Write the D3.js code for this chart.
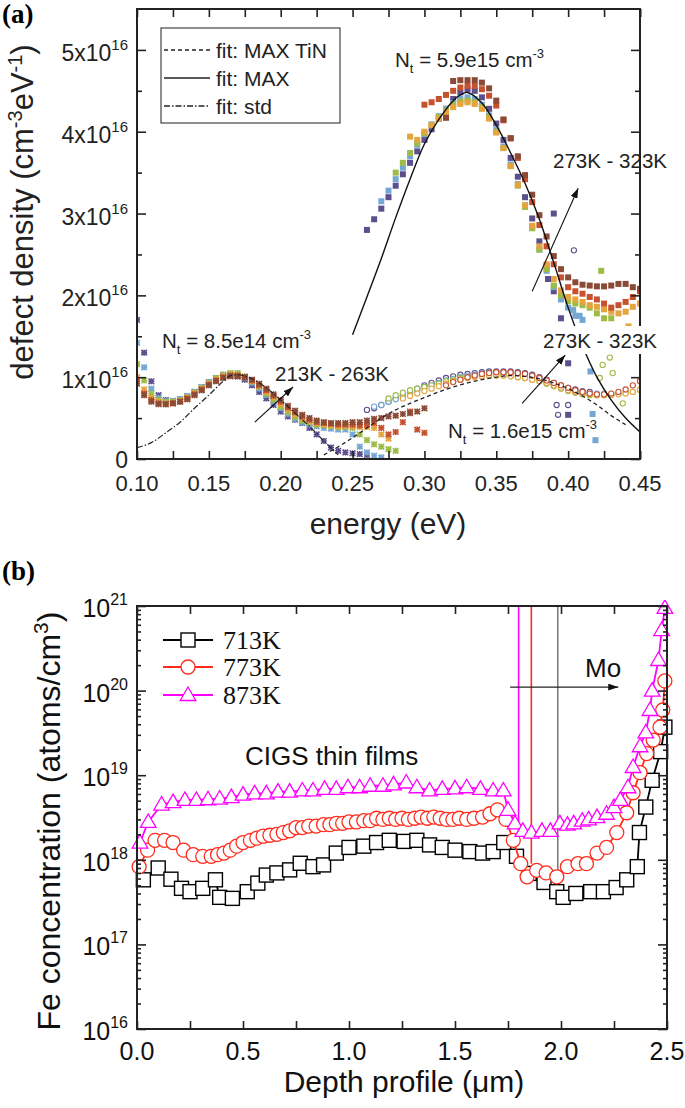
<!DOCTYPE html>
<html><head><meta charset="utf-8">
<script src="https://cdn.jsdelivr.net/npm/d3@7"></script>
<style>body{margin:0;background:#fff} svg{display:block}</style>
</head><body><svg id="c" width="685" height="1108"></svg>
<script>
// ================= PANEL (a) DATA (values in units of 1e16 cm^-3 eV^-1) =================
const aXTickLabels = ["0.10","0.15","0.20","0.25","0.30","0.35","0.40","0.45"];
const aXTicks = [0.10,0.15,0.20,0.25,0.30,0.35,0.40,0.45];
const aYTicks = [0,1,2,3,4,5];
const aYTickLabels = ["0","1x10","2x10","3x10","4x10","5x10"];
const aYExp = "16";

const lowTLabels = ["213K","223K","233K","243K","253K","263K"];
const lowE = [0.100,0.105,0.110,0.115,0.120,0.125,0.130,0.135,0.140,0.145,0.150,0.155,0.160,0.165,0.170,0.175,0.180,0.185,0.190,0.195,0.200,0.205,0.210,0.215,0.220,0.225,0.230,0.235,0.240,0.245,0.250,0.255,0.260,0.265,0.270,0.275,0.280,0.285,0.290,0.295,0.300];
const low213 = [1.70,1.30,0.95,0.78,0.72,0.71,0.73,0.77,0.82,0.88, 0.94,0.99,1.02,1.03,1.01,0.97,0.90,0.82,0.74,0.66, 0.58,0.52,0.48,0.44,0.38,0.30,0.22,0.14,0.10,0.08, 0.07,0.06,0.05,null,null,null,null,null,null,null,null];
const low223 = [1.42,1.12,0.86,0.75,0.71,0.71,0.73,0.77,0.82,0.88, 0.94,0.99,1.03,1.04,1.03,0.99,0.93,0.86,0.78,0.70, 0.62,0.55,0.49,0.45,0.42,0.40,0.38,0.37,0.36,0.36, 0.30,0.15,0.08,0.04,0.02,null,null,null,null,null,null];
const low233 = [1.16,0.96,0.80,0.72,0.70,0.70,0.72,0.76,0.81,0.87, 0.93,0.99,1.03,1.05,1.05,1.01,0.95,0.88,0.80,0.72, 0.64,0.57,0.51,0.47,0.44,0.42,0.41,0.40,0.39,0.39, 0.38,0.30,0.23,0.18,0.15,0.12,0.10,null,null,null,null];
const low243 = [1.00,0.85,0.75,0.70,0.68,0.69,0.71,0.75,0.80,0.86, 0.92,0.97,1.01,1.03,1.03,1.00,0.95,0.89,0.82,0.75, 0.67,0.60,0.54,0.50,0.46,0.44,0.42,0.41,0.40,0.40, 0.40,0.39,0.39,0.38,0.30,0.25,null,null,null,null,null];
const low253 = [0.95,0.80,0.72,0.68,0.67,0.68,0.70,0.74,0.79,0.85, 0.91,0.96,1.00,1.02,1.02,1.00,0.96,0.90,0.84,0.77, 0.70,0.63,0.57,0.52,0.48,0.45,0.44,0.43,0.42,0.42, 0.42,0.41,0.42,0.44,0.38,0.30,0.33,0.45,0.58,0.36,0.32];
const low263 = [0.92,0.78,0.70,0.67,0.67,0.68,0.70,0.73,0.78,0.84, 0.90,0.95,0.99,1.01,1.01,1.00,0.97,0.92,0.86,0.79, 0.72,0.65,0.59,0.54,0.50,0.47,0.45,0.44,0.44,0.44, 0.45,0.45,0.47,0.49,0.50,0.52,0.53,0.55,0.56,0.58,0.62];

const highE = [0.260,0.265,0.270,0.275,0.280,0.285,0.290,0.295,0.300,0.305,0.310,0.315,0.320,0.325,0.330,0.335,0.340,0.345,0.350,0.355,0.360,0.365,0.370,0.375,0.380,0.385,0.390,0.395,0.400,0.405,0.410,0.415,0.420,0.425,0.430,0.435,0.440,0.445,0.450];
// filled squares (deep level, 273K-323K)
const sq273 = [2.80,2.93,3.06,3.20,3.34,3.48,3.62,3.76,3.90,4.03, 4.16,4.28,4.40,4.48,4.52,4.50,4.42,4.28,4.10,3.90, 3.68,3.45,3.20,2.94,2.66,2.36,2.05,1.72,1.40,null, null,null,null,null,null,null,null,null,null];
const sq283 = [null,null,3.15,3.28,3.42,3.56,3.70,3.84,3.97,4.09, 4.19,4.28,4.35,4.40,4.42,4.40,4.33,4.20,4.02,3.82, 3.60,3.36,3.10,2.84,2.56,2.30,2.10,1.95,1.85,1.75, 1.70,null,null,null,null,null,null,null,null];
const sq293 = [null,null,null,null,3.50,3.62,3.74,3.86,3.98,4.08, 4.18,4.26,4.33,4.37,4.38,4.36,4.30,4.18,4.00,3.80, 3.58,3.34,3.08,2.82,2.56,2.32,2.12,2.00,1.93,1.90, 1.88,1.85,1.78,1.72,null,null,null,null,null];
const sq303 = [null,null,null,null,null,null,3.94,3.90,4.00,4.08, 4.16,4.24,4.30,4.34,4.36,4.34,4.28,4.16,3.99,3.80, 3.58,3.35,3.10,2.85,2.60,2.38,2.20,2.06,1.98,1.95, 1.92,1.88,1.86,1.83,1.80,1.78,1.80,1.86,1.90];
const sq313 = [null,null,null,null,null,null,null,null,4.33,4.36, 4.40,4.45,4.50,4.54,4.56,4.56,4.52,4.44,4.32,4.14, 3.92,3.68,3.42,3.14,2.86,2.60,2.38,2.22,2.10,2.05, 2.02,1.98,1.95,1.90,1.85,1.88,1.92,1.98,2.05];
const sq323 = [null,null,null,null,null,null,null,null,null,null, null,4.17,4.62,4.63,4.63,4.63,4.60,4.53,4.38,4.15, 3.92,3.70,3.47,3.23,2.98,2.72,2.48,2.32,2.22,2.16, 2.13,2.12,2.11,2.11,2.12,2.14,2.14,2.10,2.08];
// open circles (shallow level, 273K-323K)
const ci273 = [0.60,0.62,0.66,0.70,0.74,0.78,0.82,0.86,0.90,0.93, 0.96,0.99,1.01,1.03,1.04,1.05,1.06,1.07,1.07,1.07, 1.07,1.06,1.05,1.03,1.00,0.97,0.93,0.90,0.87,0.85, 0.83,0.82,null,null,null,null,null,null,null];
const ci283 = [null,0.64,0.66,0.70,0.73,0.77,0.80,0.84,0.87,0.90, 0.93,0.96,0.98,1.00,1.02,1.03,1.04,1.05,1.05,1.05, 1.05,1.04,1.03,1.01,0.98,0.95,0.92,0.88,0.85,0.83, 0.81,0.80,0.80,0.80,null,null,null,null,null];
const ci293 = [null,null,null,0.74,0.78,0.81,0.84,0.86,0.88,0.90, 0.92,0.95,0.97,0.99,1.00,1.01,1.02,1.02,1.02,1.02, 1.01,1.00,0.99,0.97,0.95,0.92,0.89,0.86,0.83,0.81, 0.79,0.78,0.78,0.78,0.79,0.80,0.81,0.82,0.84];
const ci303 = [null,null,null,null,null,0.74,0.77,0.80,0.83,0.86, 0.89,0.92,0.95,0.97,0.99,1.00,1.01,1.02,1.02,1.02, 1.01,1.00,0.99,0.97,0.95,0.93,0.90,0.87,0.84,0.82, 0.80,0.79,0.78,0.78,0.78,0.79,0.80,0.82,0.85];
const ci323 = [null,null,null,null,null,null,null,null,null,null, null,0.90,0.94,0.97,1.00,1.02,1.04,1.05,1.06,1.06, 1.06,1.05,1.04,1.02,0.99,0.96,0.93,0.90,0.87,0.84, 0.82,0.80,0.79,0.79,0.80,0.82,0.85,0.90,0.95];
// scattered points
const outE = [0.386,0.390,0.400,0.400,0.4035,0.408,0.4155,0.417,0.419,0.423,0.425,0.430,0.437,0.442, 0.404,0.392,0.400,0.393,0.424,0.429,0.431,0.422,0.438,0.427];
const outV = [2.20,3.00,1.17,0.54,1.82,1.75,1.07,0.55,0.23,2.30,1.55,1.72,1.45,1.62, 2.55,0.66,0.66,0.54,1.15,1.24,1.05,0.99,0.68,1.35];
const outColor = [0,0,0,0,1,1,1,1,1,2,2,2,3,3, 0,0,0,0,2,2,2,2,2,3];
const outShape = ["s","s","s","s","s","s","s","s","s","s","s","s","s","s","c","c","c","c","c","c","c","c","c","c"];

// fit curves
const fitStdE = [0.100,0.110,0.120,0.130,0.140,0.150,0.160,0.165,0.170,0.180,0.190,0.200,0.210,0.220,0.230,0.240];
const fitStdV = [0.14,0.20,0.32,0.45,0.62,0.78,0.95,1.02,1.03,0.98,0.87,0.72,0.56,0.40,0.22,0.05];
const fitMaxE = [0.250,0.260,0.270,0.280,0.290,0.300,0.310,0.320,0.325,0.330,0.340,0.350,0.360,0.370,0.380,0.390,0.400,0.410,0.420,0.430,0.440,0.450];
const fitMaxV = [1.52,1.98,2.45,2.95,3.42,3.85,4.15,4.38,4.45,4.48,4.35,4.08,3.74,3.37,2.93,2.40,1.85,1.38,1.00,0.72,0.50,0.33];
const fitTiNE = [0.230,0.240,0.250,0.260,0.270,0.280,0.290,0.300,0.310,0.320,0.330,0.340,0.350,0.360,0.370,0.380,0.390,0.400,0.410,0.420,0.430,0.440];
const fitTiNV = [0.05,0.15,0.26,0.38,0.50,0.60,0.68,0.75,0.82,0.88,0.93,0.97,1.00,1.02,1.01,0.98,0.93,0.86,0.77,0.66,0.53,0.42];

// ================= PANEL (b) DATA =================
const bXTicks = [0,0.5,1.0,1.5,2.0,2.5];
const bXTickLabels = ["0.0","0.5","1.0","1.5","2.0","2.5"];
const bYTicks = [1e16,1e17,1e18,1e19,1e20,1e21];
const bYExps = ["16","17","18","19","20","21"];
const seriesB = ["713K","773K","873K"];
const d713 = [0.03,0.10,0.16,0.21,0.25,0.31,0.37,0.39,0.45,0.52,0.57,0.61,0.66,0.72,0.77,0.83,0.88,0.94,1.00,1.07,1.13,1.19,1.26,1.32,1.38,1.44,1.50,1.57,1.63,1.68,1.73,1.79,1.85,1.92,1.98,2.01,2.07,2.14,2.20,2.26,2.31,2.36,2.37,2.40,2.43,2.47,2.49];
const v713 = [5.8e17,8.0e17,5.9e17,4.6e17,4.2e17,4.6e17,5.8e17,3.6e17,3.5e17,4.2e17,5.3e17,6.6e17,7.0e17,7.6e17,9.1e17,8.3e17,8.7e17,1.2e18,1.4e18,1.45e18,1.6e18,1.7e18,1.65e18,1.7e18,1.5e18,1.4e18,1.3e18,1.25e18,1.2e18,1.25e18,1.6e18,1.1e18,6.9e17,5.4e17,4.2e17,3.6e17,4.0e17,4.2e17,4.2e17,4.7e17,5.8e17,8.3e17,2.1e18,4.2e18,8.7e18,1.9e19,3.7e19];
const d773 = [0.01,0.05,0.085,0.13,0.17,0.22,0.265,0.31,0.35,0.38,0.41,0.44,0.47,0.50,0.535,0.565,0.595,0.627,0.66,0.69,0.72,0.75,0.78,0.81,0.845,0.88,0.91,0.94,0.97,1.00,1.035,1.07,1.10,1.13,1.16,1.19,1.22,1.25,1.28,1.31,1.34,1.37,1.40,1.43,1.46,1.49,1.52,1.555,1.59,1.63,1.665,1.70,1.74,1.775,1.81,1.84,1.885,1.93,1.98,2.03,2.08,2.12,2.17,2.215,2.263,2.31,2.34,2.373,2.404,2.435,2.467,2.48,2.49];
const v773 = [8.3e17,1.3e18,1.7e18,1.7e18,1.6e18,1.3e18,1.15e18,1.1e18,1.1e18,1.15e18,1.2e18,1.3e18,1.45e18,1.6e18,1.7e18,1.8e18,1.9e18,1.95e18,2.0e18,2.1e18,2.2e18,2.4e18,2.4e18,2.5e18,2.5e18,2.6e18,2.6e18,2.7e18,2.7e18,2.8e18,2.8e18,2.9e18,2.9e18,3.1e18,3.0e18,3.1e18,3.0e18,3.1e18,3.0e18,3.1e18,3.2e18,3.1e18,3.2e18,3.1e18,3.0e18,3.0e18,3.1e18,3.0e18,3.1e18,3.2e18,3.5e18,3.9e18,3.0e18,1.7e18,9.0e17,6.3e17,7.5e17,7.0e17,6.3e17,8.3e17,9.0e17,9.0e17,1.2e18,1.4e18,2.1e18,3.6e18,6.2e18,1.07e19,1.8e19,2.6e19,3.7e19,5.9e19,1.3e20];
const d873 = [0.014,0.053,0.116,0.17,0.226,0.28,0.335,0.39,0.445,0.50,0.555,0.61,0.665,0.72,0.78,0.83,0.885,0.94,0.995,1.05,1.10,1.16,1.21,1.27,1.32,1.38,1.44,1.50,1.555,1.62,1.68,1.728,1.75,1.783,1.82,1.86,1.91,1.95,1.995,2.03,2.06,2.10,2.13,2.17,2.215,2.25,2.28,2.316,2.34,2.373,2.40,2.42,2.43,2.46,2.475,2.49];
const v873 = [1.6e18,2.8e18,4.5e18,4.8e18,5.1e18,5.1e18,5.2e18,5.3e18,5.5e18,5.9e18,6.1e18,6.1e18,6.4e18,6.4e18,6.6e18,6.6e18,6.9e18,6.9e18,7.2e18,7.2e18,7.5e18,7.5e18,7.8e18,8.2e18,7.2e18,6.6e18,6.9e18,7.0e18,7.2e18,6.9e18,6.6e18,6.6e18,3.9e18,2.7e18,2.2e18,2.1e18,2.2e18,2.2e18,2.7e18,2.6e18,2.7e18,2.9e18,3.0e18,3.2e18,3.5e18,4.2e18,5.1e18,7.2e18,1.25e19,2.2e19,3.2e19,5.9e19,1.0e20,2.3e20,5.2e20,9.5e20];
const interfaceDepth = [1.80,1.86,1.985];
const interfaceBottom = [2.2e18,9.0e17,5.5e17];

// ================= DRAWING =================
const SANS = '"Liberation Sans", Arial, Helvetica, sans-serif';
const SERIF = '"Liberation Serif", "Times New Roman", serif';
const svg = d3.select("#c");
const defs = svg.append("defs");
defs.append("marker").attr("id","ah").attr("viewBox","0 0 10 7").attr("refX",10).attr("refY",3.5)
  .attr("markerWidth",10).attr("markerHeight",7).attr("markerUnits","userSpaceOnUse").attr("orient","auto")
  .append("path").attr("d","M0,0L10,3.5L0,7Z").attr("fill","#111");

const colA = ["#5d4f8e","#74a7d3","#9dbc47","#e5a43e","#c6512f","#8b4a36"];

// ---------- panel (a) ----------
const xA = d3.scaleLinear().domain([0.10,0.45]).range([137,640]);
const yA = d3.scaleLinear().domain([0,5.5]).range([459,9]);
defs.append("clipPath").attr("id","clipA").append("rect").attr("x",137).attr("y",9).attr("width",503).attr("height",450);
const gA = svg.append("g").attr("clip-path","url(#clipA)");

const lowSets = [low213,low223,low233,low243,low253,low263];
lowSets.forEach((vals,si)=>{
  const pts = lowE.map((e,i)=>[e,vals[i]]).filter(p=>p[1]!==null);
  gA.append("g").selectAll("path").data(pts).join("path")
    .attr("transform",p=>`translate(${xA(p[0])},${yA(p[1])})`)
    .attr("d","M-2.8,-2.8L2.8,2.8M-2.8,2.8L2.8,-2.8M0,-3L0,3M-3,0L3,0")
    .attr("stroke",colA[si]).attr("stroke-width",1.6).attr("fill","none");
});
const ciSets = [ci273,ci283,ci293,ci303,ci323];
const ciCol = [0,1,2,3,4];
ciSets.forEach((vals,si)=>{
  const pts = highE.map((e,i)=>[e,vals[i]]).filter(p=>p[1]!==null);
  gA.append("g").selectAll("circle").data(pts).join("circle")
    .attr("cx",p=>xA(p[0])).attr("cy",p=>yA(p[1])).attr("r",2.6)
    .attr("fill","#fff").attr("stroke",colA[ciCol[si]]).attr("stroke-width",1.1);
});
const sqSets = [sq273,sq283,sq293,sq303,sq313,sq323];
sqSets.forEach((vals,si)=>{
  const pts = highE.map((e,i)=>[e,vals[i]]).filter(p=>p[1]!==null);
  gA.append("g").selectAll("rect").data(pts).join("rect")
    .attr("x",p=>xA(p[0])-3).attr("y",p=>yA(p[1])-3).attr("width",6).attr("height",6)
    .attr("fill",colA[si]);
});
outE.forEach((e,i)=>{
  if(outShape[i]==="s"){
    gA.append("rect").attr("x",xA(e)-3).attr("y",yA(outV[i])-3).attr("width",6).attr("height",6).attr("fill",colA[outColor[i]]);
  } else {
    gA.append("circle").attr("cx",xA(e)).attr("cy",yA(outV[i])).attr("r",2.6).attr("fill","none").attr("stroke",colA[outColor[i]]).attr("stroke-width",1.1);
  }
});
const lineA = d3.line().x(d=>xA(d[0])).y(d=>yA(d[1])).curve(d3.curveMonotoneX);
gA.append("path").attr("d",lineA(fitStdE.map((e,i)=>[e,fitStdV[i]]))).attr("fill","none").attr("stroke","#222").attr("stroke-width",1.2).attr("stroke-dasharray","6,2,1.5,2");
gA.append("path").attr("d",lineA(fitTiNE.map((e,i)=>[e,fitTiNV[i]]))).attr("fill","none").attr("stroke","#222").attr("stroke-width",1.3).attr("stroke-dasharray","4,3");
gA.append("path").attr("d",d3.line().x(d=>xA(d[0])).y(d=>yA(d[1])).curve(d3.curveCatmullRom)(fitMaxE.map((e,i)=>[e,fitMaxV[i]]))).attr("fill","none").attr("stroke","#111").attr("stroke-width",1.4);

// frame + ticks (a)
svg.append("rect").attr("x",137).attr("y",9).attr("width",503).attr("height",450).attr("fill","none").attr("stroke","#222").attr("stroke-width",2);
const aMinorX = d3.range(0,15).map(i=>0.10+i*0.025).concat([0.45]);
const styleAxis = g=>{ g.select(".domain").remove(); g.selectAll("line").attr("stroke","#222").attr("stroke-width",1.6); };
svg.append("g").attr("transform","translate(0,459)").call(d3.axisBottom(xA).tickValues(aMinorX).tickSizeInner(-8).tickSizeOuter(0).tickFormat("")).call(styleAxis);
svg.append("g").attr("transform","translate(0,9)").call(d3.axisTop(xA).tickValues(aMinorX).tickSizeInner(-8).tickSizeOuter(0).tickFormat("")).call(styleAxis);
const aMajY = aYTicks, aMinY = [0.5,1.5,2.5,3.5,4.5];
svg.append("g").attr("transform","translate(137,0)").call(d3.axisLeft(yA).tickValues(aMajY).tickSizeInner(-9).tickSizeOuter(0).tickFormat("")).call(styleAxis);
svg.append("g").attr("transform","translate(137,0)").call(d3.axisLeft(yA).tickValues(aMinY).tickSizeInner(-5).tickSizeOuter(0).tickFormat("")).call(styleAxis);
svg.append("g").attr("transform","translate(640,0)").call(d3.axisRight(yA).tickValues(aMajY).tickSizeInner(-9).tickSizeOuter(0).tickFormat("")).call(styleAxis);
svg.append("g").attr("transform","translate(640,0)").call(d3.axisRight(yA).tickValues(aMinY).tickSizeInner(-5).tickSizeOuter(0).tickFormat("")).call(styleAxis);

aXTicks.forEach((v,i)=>{
  svg.append("text").attr("x",xA(v)).attr("y",491).attr("text-anchor","middle").attr("font-family",SANS).attr("font-size",22).attr("fill","#222").text(aXTickLabels[i]);
});
aYTicks.forEach((v,i)=>{
  const t = svg.append("text").attr("x",128).attr("y",yA(v)+(v===0?9:11)).attr("text-anchor","end").attr("font-family",SANS).attr("font-size",23).attr("fill","#222");
  t.append("tspan").text(aYTickLabels[i]);
  if(v!==0) t.append("tspan").attr("dy",-11).attr("font-size",15).text(aYExp);
});
svg.append("text").attr("x",388).attr("y",534).attr("text-anchor","middle").attr("font-family",SANS).attr("font-size",30).attr("fill","#222").text("energy (eV)");
{
  const t = svg.append("text").attr("transform","translate(33,212) rotate(-90)").attr("text-anchor","middle").attr("font-family",SANS).attr("font-size",31).attr("fill","#222");
  t.append("tspan").text("defect density (cm");
  t.append("tspan").attr("dy",-11).attr("font-size",20).text("-3");
  t.append("tspan").attr("dy",11).text("eV");
  t.append("tspan").attr("dy",-11).attr("font-size",20).text("-1");
  t.append("tspan").attr("dy",11).text(")");
}
svg.append("text").attr("x",2).attr("y",23).attr("font-family",SERIF).attr("font-weight","bold").attr("font-size",27).text("(a)");

// legend (a)
svg.append("rect").attr("x",161).attr("y",28).attr("width",179).attr("height",95).attr("fill","#fff").attr("stroke","#444").attr("stroke-width",1.2);
const legA = [["fit: MAX TiN","4,3"],["fit: MAX",null],["fit: std","6,2,1.5,2"]];
legA.forEach((l,i)=>{
  const y = 50 + i*28;
  svg.append("line").attr("x1",164).attr("x2",210).attr("y1",y).attr("y2",y).attr("stroke","#222").attr("stroke-width",1.3).attr("stroke-dasharray",l[1]);
  svg.append("text").attr("x",216).attr("y",y+8).attr("font-family",SANS).attr("font-size",21).attr("fill","#222").text(l[0]);
});

// annotations (a)
function ntLabel(x,y,rest){
  const t = svg.append("text").attr("x",x).attr("y",y).attr("font-family",SANS).attr("font-size",20.5).attr("fill","#222");
  t.append("tspan").text("N");
  t.append("tspan").attr("dy",6).attr("font-size",13).text("t");
  t.append("tspan").attr("dy",-6).text(rest);
  t.append("tspan").attr("dy",-9).attr("font-size",13).text("-3");
  return t;
}
ntLabel(395,67," = 5.9e15 cm");
ntLabel(162,348," = 8.5e14 cm");
const arrow = (x1,y1,x2,y2)=>svg.append("line").attr("x1",x1).attr("y1",y1).attr("x2",x2).attr("y2",y2).attr("stroke","#111").attr("stroke-width",1.1).attr("marker-end","url(#ah)");
arrow(xA(0.182),yA(0.45),xA(0.2086),yA(0.88));
arrow(xA(0.375),yA(2.05),xA(0.407),yA(3.31));
arrow(xA(0.368),yA(0.68),xA(0.398),yA(1.27));
svg.append("text").attr("x",275).attr("y",381).attr("font-family",SANS).attr("font-size",20.5).attr("fill","#222").text("213K - 263K");
svg.append("text").attr("x",553).attr("y",168).attr("font-family",SANS).attr("font-size",20.5).attr("fill","#222").text("273K - 323K");
svg.append("rect").attr("x",541).attr("y",326).attr("width",119).attr("height",28).attr("fill","#fff");
svg.append("text").attr("x",543).attr("y",348).attr("font-family",SANS).attr("font-size",20.5).attr("fill","#222").text("273K - 323K");
ntLabel(448,438," = 1.6e15 cm");

// ---------- panel (b) ----------
const xB = d3.scaleLinear().domain([0,2.5]).range([137,667]);
const yB = d3.scaleLog().domain([1e16,1e21]).range([1029,606]);
defs.append("clipPath").attr("id","clipB").append("rect").attr("x",130).attr("y",600).attr("width",545).attr("height",440);
const gB = svg.append("g").attr("clip-path","url(#clipB)");
const colB = ["#000000","#ff2b1c","#ff00ff"];

// interface lines
interfaceDepth.forEach((d,i)=>{
  gB.append("line").attr("x1",xB(d)).attr("x2",xB(d)).attr("y1",yB(1e21)).attr("y2",yB(interfaceBottom[i]))
    .attr("stroke", i===2 ? "#555" : colB[2-i]).attr("stroke-width", i===2 ? 1.2 : 1.6);
});

const lineB = d3.line().x(d=>xB(d[0])).y(d=>yB(d[1]));
const setsB = [[d713,v713],[d773,v773],[d873,v873]];
const triPath = "M0,-8L7.8,5.5L-7.8,5.5Z";
setsB.forEach((s,si)=>{
  const pts = s[0].map((d,i)=>[d,s[1][i]]);
  const g = gB.append("g");
  g.append("path").attr("d",lineB(pts)).attr("fill","none").attr("stroke",colB[si]).attr("stroke-width",1.8);
  if(si===0){
    g.selectAll("rect").data(pts).join("rect").attr("x",p=>xB(p[0])-7).attr("y",p=>yB(p[1])-7).attr("width",14).attr("height",14)
      .attr("fill","#fff").attr("stroke",colB[0]).attr("stroke-width",1.4);
  } else if(si===1){
    g.selectAll("circle").data(pts).join("circle").attr("cx",p=>xB(p[0])).attr("cy",p=>yB(p[1])).attr("r",7)
      .attr("fill","#fff").attr("stroke",colB[1]).attr("stroke-width",1.3);
  } else {
    g.selectAll("path.m").data(pts).join("path").attr("class","m").attr("transform",p=>`translate(${xB(p[0])},${yB(p[1])})`).attr("d",triPath)
      .attr("fill","#fff").attr("stroke",colB[2]).attr("stroke-width",1.3);
  }
});

// frame + ticks (b)
svg.append("rect").attr("x",137).attr("y",606).attr("width",530).attr("height",423).attr("fill","none").attr("stroke","#222").attr("stroke-width",2);
const bMinorX = d3.range(0,11).map(i=>i*0.25);
svg.append("g").attr("transform","translate(0,1029)").call(d3.axisBottom(xB).tickValues(bMinorX).tickSizeInner(-8).tickSizeOuter(0).tickFormat("")).call(styleAxis);
svg.append("g").attr("transform","translate(0,606)").call(d3.axisTop(xB).tickValues(bMinorX).tickSizeInner(-8).tickSizeOuter(0).tickFormat("")).call(styleAxis);
const bMinY = [];
[16,17,18,19,20].forEach(e=>{ for(let k=2;k<=9;k++) bMinY.push(k*Math.pow(10,e)); });
svg.append("g").attr("transform","translate(137,0)").call(d3.axisLeft(yB).tickValues(bYTicks).tickSizeInner(-9).tickSizeOuter(0).tickFormat("")).call(styleAxis);
svg.append("g").attr("transform","translate(137,0)").call(d3.axisLeft(yB).tickValues(bMinY).tickSizeInner(-4).tickSizeOuter(0).tickFormat("")).call(styleAxis);
svg.append("g").attr("transform","translate(667,0)").call(d3.axisRight(yB).tickValues(bYTicks).tickSizeInner(-9).tickSizeOuter(0).tickFormat("")).call(styleAxis);
svg.append("g").attr("transform","translate(667,0)").call(d3.axisRight(yB).tickValues(bMinY).tickSizeInner(-4).tickSizeOuter(0).tickFormat("")).call(styleAxis);

bXTicks.forEach((v,i)=>{
  svg.append("text").attr("x",xB(v)).attr("y",1060).attr("text-anchor","middle").attr("font-family",SANS).attr("font-size",25).attr("fill","#111").text(bXTickLabels[i]);
});
bYTicks.forEach((v,i)=>{
  const t = svg.append("text").attr("x",128).attr("y",yB(v)+11).attr("text-anchor","end").attr("font-family",SANS).attr("font-size",25).attr("fill","#111");
  t.append("tspan").text("10");
  t.append("tspan").attr("dy",-12).attr("font-size",16).text(bYExps[i]);
});
{
  const t = svg.append("text").attr("x",404).attr("y",1092).attr("text-anchor","middle").attr("font-family",SANS).attr("font-size",30).attr("fill","#111");
  t.append("tspan").text("Depth profile (");
  t.append("tspan").text("\u03bcm");
  t.append("tspan").text(")");
}
{
  const t = svg.append("text").attr("transform","translate(60,821) rotate(-90)").attr("text-anchor","middle").attr("font-family",SANS).attr("font-size",32).attr("fill","#111");
  t.append("tspan").text("Fe concentration (atoms/cm");
  t.append("tspan").attr("dy",-12).attr("font-size",21).text("3");
  t.append("tspan").attr("dy",12).text(")");
}
svg.append("text").attr("x",2).attr("y",580).attr("font-family",SERIF).attr("font-weight","bold").attr("font-size",27).text("(b)");

// legend (b)
const legY = [640,667,695];
seriesB.forEach((name,i)=>{
  const y = legY[i];
  svg.append("line").attr("x1",163).attr("x2",213).attr("y1",y).attr("y2",y).attr("stroke",colB[i]).attr("stroke-width",1.8);
  if(i===0) svg.append("rect").attr("x",181).attr("y",y-7).attr("width",14).attr("height",14).attr("fill","#fff").attr("stroke",colB[0]).attr("stroke-width",1.4);
  else if(i===1) svg.append("circle").attr("cx",188).attr("cy",y).attr("r",7).attr("fill","#fff").attr("stroke",colB[1]).attr("stroke-width",1.3);
  else svg.append("path").attr("transform",`translate(188,${y})`).attr("d",triPath).attr("fill","#fff").attr("stroke",colB[2]).attr("stroke-width",1.3);
  svg.append("text").attr("x",223).attr("y",y+9).attr("font-family",SERIF).attr("font-size",26).attr("fill","#111").text(name);
});
svg.append("text").attr("x",245).attr("y",765).attr("font-family",SANS).attr("font-size",26).attr("fill","#111").text("CIGS thin films");
svg.append("text").attr("x",585).attr("y",677).attr("font-family",SANS).attr("font-size",26).attr("fill","#111").text("Mo");
svg.append("line").attr("x1",xB(1.76)).attr("x2",xB(2.27)).attr("y1",yB(1.1e20)).attr("y2",yB(1.1e20)).attr("stroke","#222").attr("stroke-width",1.1).attr("marker-end","url(#ah)");
</script></body></html>
